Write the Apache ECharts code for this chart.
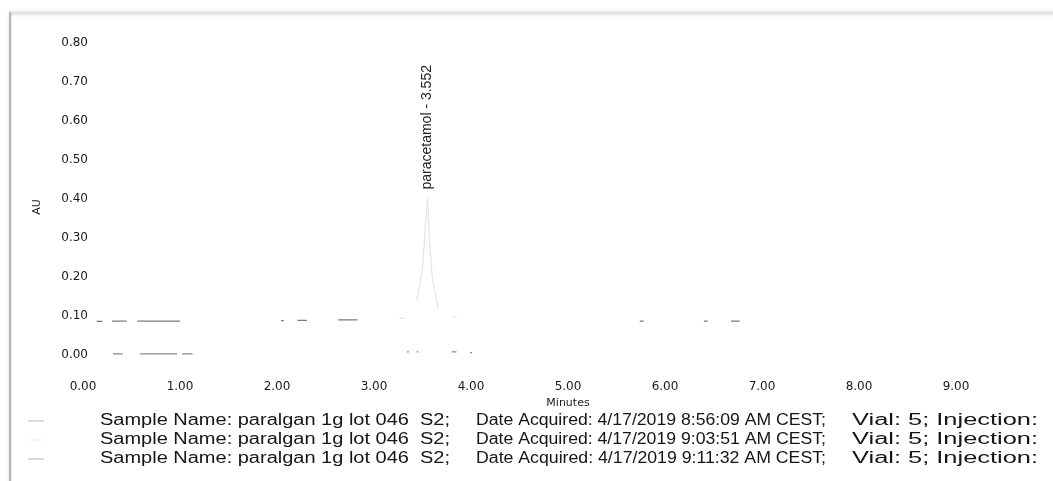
<!DOCTYPE html>
<html>
<head>
<meta charset="utf-8">
<script src="https://cdn.jsdelivr.net/npm/echarts@6/dist/echarts.min.js"></script>
<style>
  html, body { margin: 0; padding: 0; background: #ffffff; }
  #chart { width: 1053px; height: 481px; }
</style>
</head>
<body>
<div id="chart"></div>
<script>
// Overlay of three injections (UV detector, AU vs retention time in minutes).
// Each trace is a list of retention times and absorbances; a null absorbance
// marks a break where the printed trace drops out.

const xTickLabels = ['0.00', '1.00', '2.00', '3.00', '4.00', '5.00', '6.00', '7.00', '8.00', '9.00'];
const yTickLabels = ['0.00', '0.10', '0.20', '0.30', '0.40', '0.50', '0.60', '0.70', '0.80'];

const sampleNames = ['paralgan 1g lot 046  S2', 'paralgan 1g lot 046  S2', 'paralgan 1g lot 046  S2'];
const acquiredDates = ['4/17/2019 8:56:09 AM CEST', '4/17/2019 9:03:51 AM CEST', '4/17/2019 9:11:32 AM CEST'];
const vials = ['5', '5', '5'];

const peakName = 'paracetamol';
const peakTime = 3.552;
const peakAU = 0.405;

// Injection 1 (8:56:09)
const trace1Time = [0.14, 0.20, 0.25, 0.30, 0.45, 0.50, 0.56, 1.00, 1.50, 2.04, 2.07, 2.12, 2.21, 2.31, 2.40, 2.63, 2.83, 3.50, 5.74, 5.78, 6.00, 6.40, 6.44, 6.55, 6.68, 6.77];
const trace1AU   = [0.086, 0.086, null, 0.087, 0.087, null, 0.087, 0.087, null, 0.088, 0.088, null, 0.089, 0.089, null, 0.090, 0.090, null, 0.087, 0.087, null, 0.087, 0.087, null, 0.087, 0.087];

// Injection 2 (9:03:51)
const trace2Time = [0.31, 0.41, 0.50, 0.59, 0.97, 0.99, 1.02, 1.13, 2.00, 3.34, 3.36, 3.40, 3.44, 3.46, 3.60, 3.80, 3.85, 3.90, 3.99, 4.01];
const trace2AU   = [0.003, 0.003, null, 0.003, 0.003, null, 0.003, 0.003, null, 0.008, 0.008, null, 0.008, 0.008, null, 0.008, 0.008, null, 0.006, 0.006];

// Injection 3 (9:11:32), carries the paracetamol peak
const trace3Time = [3.26, 3.32, 3.38, 3.44, 3.50, 3.53, 3.552, 3.57, 3.60, 3.66, 3.74, 3.81, 3.85];
const trace3AU   = [0.094, 0.094, null, 0.140, 0.220, 0.330, 0.405, 0.300, 0.200, 0.120, null, 0.097, 0.097];

const traceColors = ['#7a7a7a', '#8a8a8a', '#e6e6e6'];
const swatchColors = ['#d0d0d0', '#f4f4f4', '#cfcfcf'];

function toPoints(times, values) {
  return times.map(function (t, i) {
    const v = values[i];
    return v === null ? [t, '-'] : [t, v];
  });
}

const traces = [
  toPoints(trace1Time, trace1AU),
  toPoints(trace2Time, trace2AU),
  toPoints(trace3Time, trace3AU)
];

const seriesNames = sampleNames.map(function (n, i) {
  return 'Sample Name: ' + n + ';  Date Acquired: ' + acquiredDates[i] + ';  Vial: ' + vials[i] + '; Injection:';
});

const series = traces.map(function (data, i) {
  return {
    name: seriesNames[i],
    type: 'line',
    data: data,
    showSymbol: false,
    symbol: 'none',
    connectNulls: false,
    lineStyle: { color: traceColors[i], width: 1.3 },
    itemStyle: { color: traceColors[i] },
    z: 3 - i,
    silent: true
  };
});

// peak annotation above the apex, reading upward
series[2].markPoint = {
  silent: true,
  symbol: 'circle',
  symbolSize: 1,
  itemStyle: { color: 'rgba(0,0,0,0)' },
  label: {
    show: true,
    position: 'top',
    distance: 7,
    rotate: 90,
    align: 'left',
    verticalAlign: 'middle',
    fontFamily: 'Liberation Sans',
    fontSize: 14,
    color: '#222222',
    formatter: peakName + ' - ' + peakTime.toFixed(3)
  },
  data: [{ coord: [peakTime, peakAU] }]
};

// Sample description lines under the plot, one per injection, in columns
const textFont = 'Liberation Sans';
const textSize = 16;
const lineY = [421, 440, 459];
const columns = [
  { x: 100, right: 450 },
  { x: 476, right: 826 },
  { x: 852, right: 1038 }
];
const measureCtx = document.createElement('canvas').getContext('2d');
measureCtx.font = textSize + 'px "' + textFont + '"';

const graphic = [
  // page edge of the printout
  { type: 'line', shape: { x1: 10, y1: 13, x2: 1060, y2: 13 },
    style: { stroke: '#e4e4e4', lineWidth: 3, shadowBlur: 4, shadowColor: 'rgba(0,0,0,0.12)' }, silent: true },
  { type: 'line', shape: { x1: 10, y1: 12, x2: 10, y2: 490 },
    style: { stroke: '#b4b4b4', lineWidth: 2, shadowBlur: 3, shadowColor: 'rgba(0,0,0,0.15)' }, silent: true }
];
sampleNames.forEach(function (n, i) {
  const texts = [
    'Sample Name: ' + n + ';',
    'Date Acquired: ' + acquiredDates[i] + ';',
    'Vial: ' + vials[i] + '; Injection:'
  ];
  texts.forEach(function (t, c) {
    const w = measureCtx.measureText(t).width;
    graphic.push({
      type: 'text', x: columns[c].x, y: lineY[i],
      scaleX: (columns[c].right - columns[c].x) / w, silent: true,
      style: { text: t, fontFamily: textFont, fontSize: textSize, fill: '#151515', verticalAlign: 'middle' }
    });
  });
  graphic.push({
    type: 'line', shape: { x1: 28, y1: lineY[i], x2: 44, y2: lineY[i] },
    style: { stroke: swatchColors[i], lineWidth: 1.5 }, silent: true
  });
});

const chart = echarts.init(document.getElementById('chart'), null, { renderer: 'canvas' });
chart.setOption({
  animation: false,
  backgroundColor: '#ffffff',
  textStyle: { fontFamily: 'DejaVu Sans' },
  grid: { left: 83, right: 0, top: 43, bottom: 126, containLabel: false },
  xAxis: {
    type: 'value',
    min: 0, max: 10, interval: 1,
    name: 'Minutes',
    nameLocation: 'middle',
    nameGap: 41,
    nameTextStyle: { fontFamily: 'DejaVu Sans', fontSize: 11, color: '#1a1a1a' },
    axisLine: { show: false },
    axisTick: { show: false },
    splitLine: { show: false },
    axisLabel: {
      showMaxLabel: false,
      margin: 26,
      fontFamily: 'DejaVu Sans', fontSize: 12, color: '#1a1a1a',
      formatter: function (v) { const k = Math.round(v); return xTickLabels[k] !== undefined ? xTickLabels[k] : ''; }
    }
  },
  yAxis: {
    type: 'value',
    min: 0, max: 0.8, interval: 0.1,
    name: 'AU',
    nameLocation: 'middle',
    nameRotate: 90,
    nameGap: 40,
    nameTextStyle: { fontFamily: 'DejaVu Sans', fontSize: 11, color: '#1a1a1a', padding: [0, 16, 0, 0] },
    axisLine: { show: false },
    axisTick: { show: false },
    splitLine: { show: false },
    axisLabel: {
      margin: -5,
      fontFamily: 'DejaVu Sans', fontSize: 12, color: '#1a1a1a',
      formatter: function (v) { const k = Math.round(v * 10); return yTickLabels[k] !== undefined ? yTickLabels[k] : ''; }
    }
  },
  graphic: graphic,
  series: series
});
</script>
</body>
</html>
